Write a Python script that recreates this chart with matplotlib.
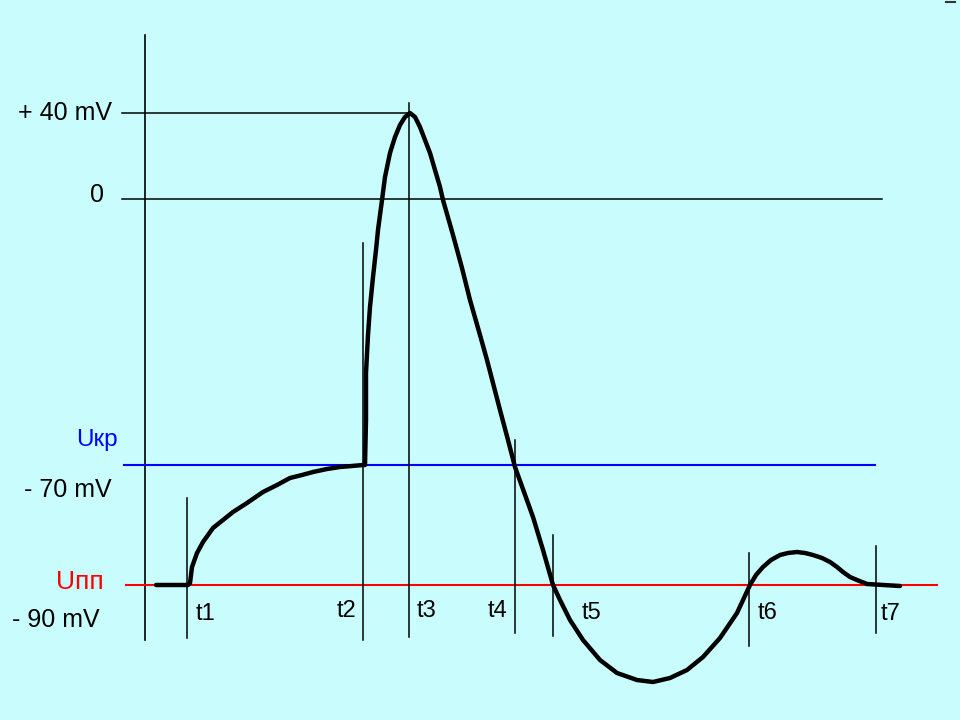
import matplotlib
matplotlib.use("Agg")
import matplotlib.pyplot as plt

# -----------------------------
# Data (schematic units: x = time, y = level, y grows downwards)
# -----------------------------
curve_t = [156, 188, 190, 192, 197, 203, 213, 223, 233, 247, 263, 277, 290,
           302, 313, 327, 340, 352, 363, 365,
           366, 366, 368, 370, 373, 376, 378, 382, 385, 390, 395, 400, 405,
           410, 415, 420, 425, 430, 435, 440, 443,
           453, 462, 470, 480, 487, 500, 508, 515, 524, 533, 543, 553,
           560, 570, 583, 600, 617, 637, 653, 670, 687, 703, 720, 737, 750,
           756, 763, 771, 780, 788, 797, 805, 813, 822, 830, 837, 843, 850,
           857, 867, 900]
curve_v = [585, 585, 583, 567, 553, 542, 528, 520, 512, 503, 492, 485, 478,
           475, 472, 469, 467, 466, 465, 465,
           420, 373, 335, 307, 277, 250, 230, 200, 177, 153, 137, 125, 117,
           113, 117, 127, 140, 153, 170, 187, 200,
           235, 268, 300, 335, 360, 410, 440, 467, 492, 517, 550, 585,
           600, 620, 640, 660, 673, 680, 682, 678, 670, 657, 638, 613, 585,
           575, 567, 560, 555, 553, 552, 553, 555, 558, 562, 567, 572, 577,
           580, 584, 586]

# horizontal levels
level_names = ["+ 40 mV", "0", "- 70 mV", "- 90 mV"]
level_label_x = [112, 104, 112, 100]
level_label_y = [113, 195, 490, 620]
peak_y = 113
zero_y = 199
thresh_y = 465
rest_y = 585

# time markers
t_names = ["t1", "t2", "t3", "t4", "t5", "t6", "t7"]
t_pos = [187, 363, 409, 515, 553, 749, 876]
t_top = [498, 243, 103, 440, 535, 553, 546]
t_bottom = [638, 640, 637, 633, 636, 646, 633]
t_label_x = [196, 356, 417, 507, 582, 758, 881]
t_label_ha = ["left", "right", "left", "right", "left", "left", "left"]
t_label_y = [614, 611, 611, 611, 613, 613, 614]

BG = "#C9FDFD"

# -----------------------------
# Figure
# -----------------------------
fig = plt.figure(figsize=(9.6, 7.2), dpi=100)
fig.patch.set_facecolor(BG)
ax = fig.add_axes([0, 0, 1, 1])
ax.set_facecolor(BG)
ax.set_xlim(0, 960)
ax.set_ylim(720, 0)
ax.axis("off")

font = ["Liberation Sans", "DejaVu Sans"]

# main axis
ax.plot([145, 145], [35, 640], color="black", lw=1.2)

# reference lines
ax.plot([122, 410], [peak_y, peak_y], color="black", lw=1.1)
ax.plot([122, 882], [zero_y, zero_y], color="black", lw=1.1)
ax.plot([124, 875], [thresh_y, thresh_y], color="#0000FF", lw=1.5)
ax.plot([126, 937], [rest_y, rest_y], color="#FF0000", lw=1.5)

# time markers
for x, y0, y1 in zip(t_pos, t_top, t_bottom):
    ax.plot([x, x], [y0, y1], color="black", lw=1.1)

for name, x, y, ha in zip(t_names, t_label_x, t_label_y, t_label_ha):
    ax.text(x, y, name, ha=ha, va="center", fontsize=17, family=font,
            color="black")

# action potential curve
ax.plot(curve_t, curve_v, color="black", lw=3.2, solid_joinstyle="round",
        solid_capstyle="round")

# level labels
for name, x, y in zip(level_names, level_label_x, level_label_y):
    ax.text(x, y, name, ha="right", va="center", fontsize=18, family=font,
            color="black")

ax.text(118, 440, "Uкр", ha="right", va="center", fontsize=17.5, family=font,
        color="#0000FF")
ax.text(104, 582, "Uпп", ha="right", va="center", fontsize=19, family=font,
        color="#FF0000")

# little mark in the top right corner
ax.plot([946, 955], [2, 2], color="#333333", lw=1.5)

fig.savefig("out.png", dpi=100, facecolor=BG)
